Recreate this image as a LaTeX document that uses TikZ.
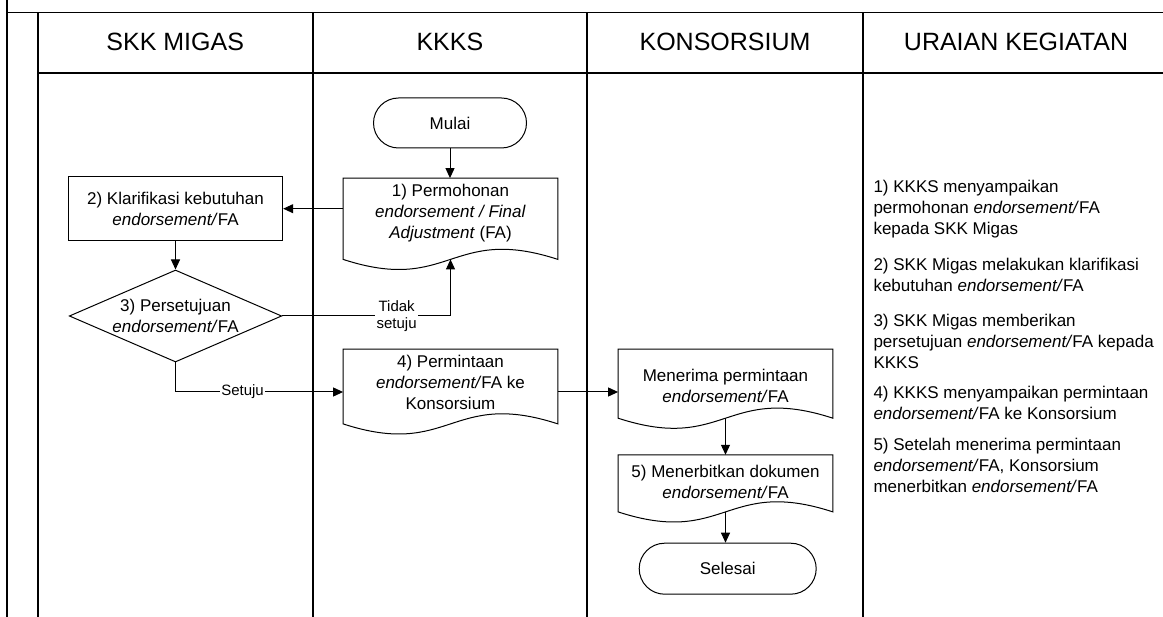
\documentclass[tikz,border=0pt]{standalone}
\usepackage{fontspec}
\setmainfont{Liberation Sans}
\usetikzlibrary{shapes.geometric,shapes.misc,arrows.meta,calc}

\tikzset{
  lane/.style={line width=1.6pt},
  flow/.style={line width=1pt, -{Triangle[length=10pt,width=9pt]}},
  process/.style={rectangle, draw, line width=1pt, minimum width=214.4pt, minimum height=64pt, align=center, inner sep=0pt},
  document/.style={rectangle, minimum width=214.4pt, align=center, inner sep=0pt},
  terminal/.style={rounded rectangle, draw, line width=1pt, minimum height=50pt, inner sep=0pt},
  decision/.style={diamond, draw, line width=1pt, aspect=2.3, minimum width=212.4pt, minimum height=92pt, align=center, inner sep=0pt},
  lanehead/.style={font=\fontsize{25}{30}\selectfont},
  note/.style={anchor=north west, align=left, inner sep=0pt},
  answer/.style={fill=white, inner sep=1.5pt, align=center, font=\fontsize{15}{17.5}\selectfont}
}

% document outline: node name, how far the sides reach below the node
\newcommand{\wavedoc}[2]{%
  \draw [line width=1pt] (#1.north west) -- (#1.north east) -- ($(#1.south east)+(0,#2)$)
    .. controls ($(#1.south)+(0,#2-35)$) and ($(#1.south)+(0,#2+35)$) .. ($(#1.south west)+(0,#2)$) -- cycle;
  \coordinate (#1-w) at ($(#1.south)+(0,#2)$);
}

\begin{document}
\begin{tikzpicture}[x=1pt,y=-1pt,every node/.style={font=\fontsize{17}{21}\selectfont}]
\useasboundingbox (0,0) rectangle (1163,617);
% lanes
\draw [lane] (7,0) -- (7,617);
\draw [lane] (7,12.7) -- (1163,12.7);
\draw [lane] (37.7,12.7) -- (37.7,617);
\draw [lane] (37.7,73.3) -- (1163,73.3);
\draw [lane] (312.7,12.7) -- (312.7,617);
\draw [lane] (587,12.7) -- (587,617);
\draw [lane] (863,12.7) -- (863,617);
\node [lanehead] (h-skk) at (175.2,42) {SKK MIGAS};
\node [lanehead] (h-kkks) at (449.9,42) {KKKS};
\node [lanehead] (h-kons) at (725,42) {KONSORSIUM};
\node [lanehead] (h-urai) at (1016,42) {URAIAN KEGIATAN};
% flow
\node [terminal, minimum width=153pt] (mulai) at (450,123) {Mulai};
\node [document, minimum height=70.4pt] (mohon) at (450.5,213.5) {1) Permohonan\\\textit{endorsement / Final}\\\textit{Adjustment} (FA)};
\wavedoc{mohon}{10.5}
\node [process] (klarif) at (175.5,208.7) {2) Klarifikasi kebutuhan\\\textit{endorsement/}FA};
\node [decision] (setuju) at (175.5,316) {3) Persetujuan\\\textit{endorsement/}FA};
\node [document, minimum height=66.4pt] (minta) at (450.5,382.5) {4) Permintaan\\\textit{endorsement/}FA ke\\Konsorsium};
\wavedoc{minta}{8}
\node [document, minimum height=72.4pt] (terima) at (725.5,385.5) {Menerima permintaan\\\textit{endorsement/}FA};
\wavedoc{terima}{-3.7}
\node [document, minimum height=53.4pt] (terbit) at (725.5,481.7) {5) Menerbitkan dokumen\\\textit{endorsement/}FA};
\wavedoc{terbit}{3.3}
\node [terminal, minimum width=177pt, minimum height=51pt] (selesai) at (727.7,568.7) {Selesai};
\coordinate (minta-out) at ($(minta.east)+(0,9.5)$);
\draw [flow] (mulai.south) -- (mulai.south |- mohon.north);
\draw [flow] (mohon.west |- klarif.east) -- (klarif.east);
\draw [flow] (klarif) -- (setuju);
\draw [flow] (setuju.east) -| node [answer, pos=0.34] {Tidak\\setuju} (mohon-w);
\draw [flow] (setuju.south) |- node [answer, pos=0.7] {Setuju} ($(minta.west)+(0,9.5)$);
\draw [flow] (minta-out) -- (minta-out -| terima.west);
\draw [flow] (terima-w) -- (terbit.north);
\draw [flow] (terbit-w) -- (terbit-w |- selesai.north);
% uraian
\node [note] (u1) at (873.3,179.7) {1) KKKS menyampaikan\\permohonan \textit{endorsement/}FA\\kepada SKK Migas};
\node [note] (u2) at (873.3,257.7) {2) SKK Migas melakukan klarifikasi\\kebutuhan \textit{endorsement/}FA};
\node [note] (u3) at (873.3,313.7) {3) SKK Migas memberikan\\persetujuan \textit{endorsement/}FA kepada\\KKKS};
\node [note] (u4) at (873.3,385.7) {4) KKKS menyampaikan permintaan\\\textit{endorsement/}FA ke Konsorsium};
\node [note] (u5) at (873.3,437.7) {5) Setelah menerima permintaan\\\textit{endorsement/}FA, Konsorsium\\menerbitkan \textit{endorsement/}FA};
\end{tikzpicture}
\end{document}
